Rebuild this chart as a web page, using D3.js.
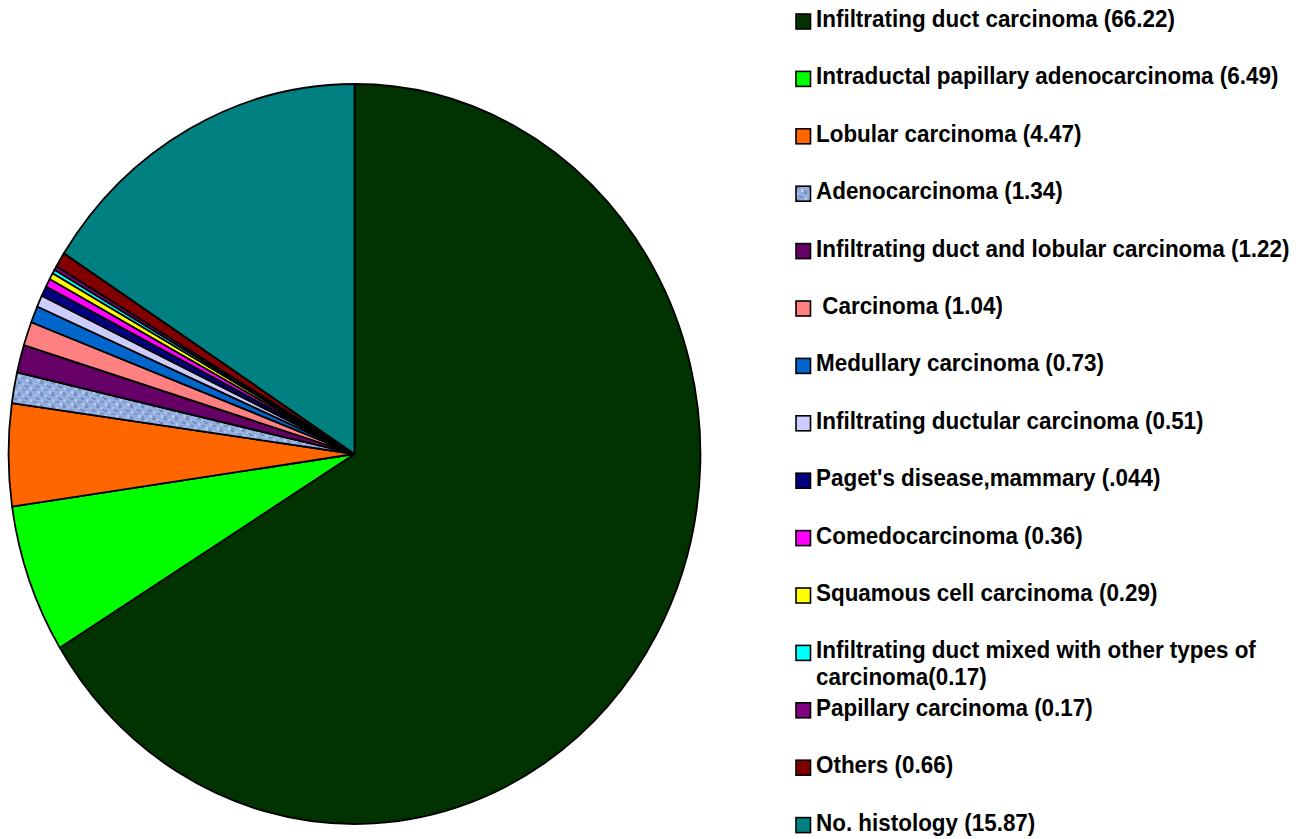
<!DOCTYPE html>
<html>
<head>
<meta charset="utf-8">
<script src="https://cdn.jsdelivr.net/npm/d3@7"></script>
<style>
  html, body { margin: 0; padding: 0; background: #fff; }
  svg { display: block; }
  text { font-family: "Liberation Sans", Arial, sans-serif; font-weight: bold; white-space: pre; }
</style>
</head>
<body>
<svg id="chart" width="1307" height="839"></svg>
<script>
// ---- data ----
const categories = [
  "Infiltrating duct carcinoma",
  "Intraductal papillary adenocarcinoma",
  "Lobular carcinoma",
  "Adenocarcinoma",
  "Infiltrating duct and lobular carcinoma",
  "Carcinoma",
  "Medullary carcinoma",
  "Infiltrating ductular carcinoma",
  "Paget's disease,mammary",
  "Comedocarcinoma",
  "Squamous cell carcinoma",
  "Infiltrating duct mixed with other types of carcinoma",
  "Papillary carcinoma",
  "Others",
  "No. histology"
];
const values = [66.22, 6.49, 4.47, 1.34, 1.22, 1.04, 0.73, 0.51, 0.44, 0.36, 0.29, 0.17, 0.17, 0.66, 15.87];
const legendLines = [
  ["Infiltrating duct carcinoma (66.22)"],
  ["Intraductal papillary adenocarcinoma (6.49)"],
  ["Lobular carcinoma (4.47)"],
  ["Adenocarcinoma (1.34)"],
  ["Infiltrating duct and lobular carcinoma (1.22)"],
  [" Carcinoma (1.04)"],
  ["Medullary carcinoma (0.73)"],
  ["Infiltrating ductular carcinoma (0.51)"],
  ["Paget's disease,mammary (.044)"],
  ["Comedocarcinoma (0.36)"],
  ["Squamous cell carcinoma (0.29)"],
  ["Infiltrating duct mixed with other types of", "carcinoma(0.17)"],
  ["Papillary carcinoma (0.17)"],
  ["Others (0.66)"],
  ["No. histology (15.87)"]
];
const colors = ["#003300", "#00FF00", "#FF6600", "url(#adeno)", "#660066", "#FF8080",
  "#0066CC", "#CCCCFF", "#000080", "#FF00FF", "#FFFF00", "#00FFFF", "#800080", "#800000", "#008080"];

// ---- drawing ----
const svg = d3.select("#chart");
const xScale = 0.935;

// texture pattern for Adenocarcinoma
const defs = svg.append("defs");
const pat = defs.append("pattern").attr("id", "adeno")
  .attr("patternUnits", "userSpaceOnUse").attr("width", 12).attr("height", 12);
pat.append("rect").attr("width", 12).attr("height", 12).attr("fill", "#94AEDD");
[[0,0,3,2,"#6F8DC4"],[5,1,2,3,"#B8CAEC"],[8,4,3,2,"#6F8DC4"],[1,5,2,3,"#B8CAEC"],
 [4,7,4,2,"#7D98CC"],[9,9,2,3,"#C2D2F0"],[0,10,3,2,"#7D98CC"],[6,3,2,1,"#5F7FB8"]]
 .forEach(d => pat.append("rect").attr("x", d[0]).attr("y", d[1]).attr("width", d[2]).attr("height", d[3]).attr("fill", d[4]));

const cx = 354.5, cy = 454, r = 370;
const pie = d3.pie().sort(null).value(d => d)(values);
const arc = d3.arc().innerRadius(0).outerRadius(r);

const g = svg.append("g").attr("transform", `translate(${cx},${cy}) scale(${xScale},1)`);
g.selectAll("path.slice").data(pie).join("path")
  .attr("class", "slice")
  .attr("d", arc)
  .attr("fill", (d, i) => colors[i])
  .attr("stroke", "#000")
  .attr("stroke-width", 1.8)
  .attr("stroke-linejoin", "round")
  .attr("vector-effect", "non-scaling-stroke");

// legend
const legX = 796, baseY = 27, step = 57.4;
const leg = svg.append("g");
legendLines.forEach((lines, i) => {
  const by = baseY + step * i;
  leg.append("rect")
    .attr("x", legX).attr("y", by - 13)
    .attr("width", 14.5).attr("height", 15)
    .attr("fill", colors[i]).attr("stroke", "#000").attr("stroke-width", 1.6);
  const t = leg.append("text")
    .attr("transform", `translate(816,${by}) scale(${xScale},1)`)
    .attr("font-size", 24).attr("fill", "#000");
  lines.forEach((ln, j) => {
    t.append("tspan").attr("x", 0).attr("y", j * 27).text(ln);
  });
});
</script>
</body>
</html>
